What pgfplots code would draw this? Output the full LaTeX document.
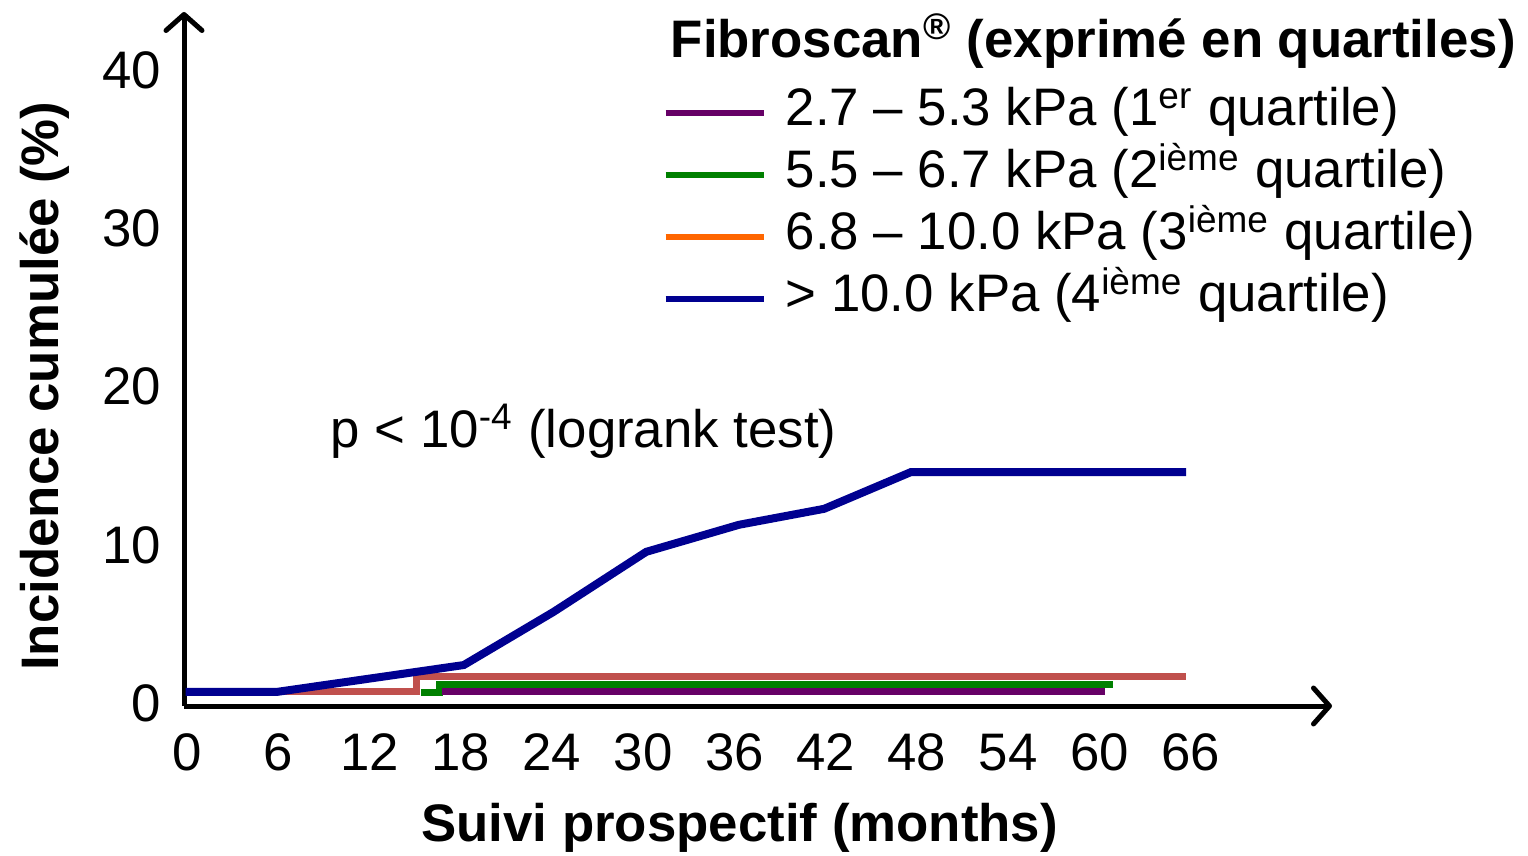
\documentclass[border=0pt]{standalone}
\usepackage{fontspec}
\setmainfont{Liberation Sans}
\usepackage{pgfplots}
\pgfplotsset{compat=1.18}
\usetikzlibrary{arrows.meta}

\definecolor{q1}{HTML}{660066}
\definecolor{q2}{HTML}{008000}
\definecolor{q3}{HTML}{FF6600}
\definecolor{q3plot}{HTML}{C0504D}
\definecolor{q4}{HTML}{000090}

\newcommand{\fs}{\fontsize{13.2}{16}\selectfont}

\begin{document}
\begin{tikzpicture}
\begin{axis}[
  scale only axis,
  width=287pt, height=173.5pt,
  xmin=-0.2, xmax=75.3,
  ymin=-0.19, ymax=43.7,
  axis lines=left,
  axis line style={line width=1.25pt, -{Straight Barb[round,length=4pt,width=9pt]}},
  xtick={0,6,...,66},
  ytick={0,10,20,30,40},
  major tick length=0pt,
  /pgf/number format/assume math mode=true,
  tick label style={font=\fs},
  xticklabel style={anchor=base, inner sep=0pt, yshift=-16pt},
  yticklabel style={anchor=east, inner sep=0pt, xshift=-5.5pt},
  xlabel={\textbf{Suivi prospectif (months)}},
  ylabel={\textbf{Incidence cumulée (\%)}},
  label style={font=\fs},
  xlabel style={at={(axis description cs:0.484,-0.176)}, anchor=center},
  ylabel style={at={(axis description cs:-0.121,0.461)}, anchor=center, rotate=0},
  legend cell align=left,
  legend image code/.code={\draw[#1] (0pt,0pt) -- (24.5pt,0pt);},
  legend style={at={(rel axis cs:0.4163,0.9005)}, anchor=north west,
    draw=none, fill=none, font=\fs, inner sep=0pt, column sep=4.75pt,
    nodes={inner sep=0pt, text height=11pt, text depth=4.5pt}},
  clip=false,
]
% legend samples
\addlegendimage{q1, line width=1.5pt}
\addlegendentry{2.7 – 5.3 kPa (1\textsuperscript{er} quartile)}
\addlegendimage{q2, line width=1.5pt}
\addlegendentry{5.5 – 6.7 kPa (2\textsuperscript{ième} quartile)}
\addlegendimage{q3, line width=1.5pt}
\addlegendentry{6.8 – 10.0 kPa (3\textsuperscript{ième} quartile)}
\addlegendimage{q4, line width=1.5pt}
\addlegendentry{> 10.0 kPa (4\textsuperscript{ième} quartile)}

% 3rd quartile
\addplot[forget plot, q3plot, line width=1.75pt] coordinates {
  (5.9,0.7) (15.1,0.7) (15.1,1.65) (65.7,1.65)
};
% 2nd quartile
\addplot[forget plot, q2, line width=1.75pt] coordinates {
  (15.4,0.65) (16.6,0.65) (16.6,1.14) (60.9,1.14)
};
% 1st quartile
\addplot[forget plot, q1, line width=1.75pt] coordinates {
  (16.8,0.7) (60.4,0.7)
};
% 4th quartile
\addplot[forget plot, q4, line width=2pt] coordinates {
  (-0.1,0.7) (5.9,0.7) (18.2,2.4) (24.1,5.76) (30.2,9.56)
  (36.3,11.27) (41.9,12.28) (47.6,14.6) (65.7,14.6)
};

\node[anchor=base west, inner sep=0pt, font=\fs\bfseries]
  at (rel axis cs:0.4233,0.935) {Fibroscan\textsuperscript{®} (exprimé en quartiles)};
\node[anchor=base west, inner sep=0pt, font=\fs]
  at (rel axis cs:0.127,0.373) {p < 10\textsuperscript{-4} (logrank test)};
\coordinate (O) at (rel axis cs:0,0);
\end{axis}
\pgfresetboundingbox
\path ([shift={(-46pt,-37.25pt)}]O) rectangle ([shift={(336pt,176.5pt)}]O);
\end{tikzpicture}
\end{document}
